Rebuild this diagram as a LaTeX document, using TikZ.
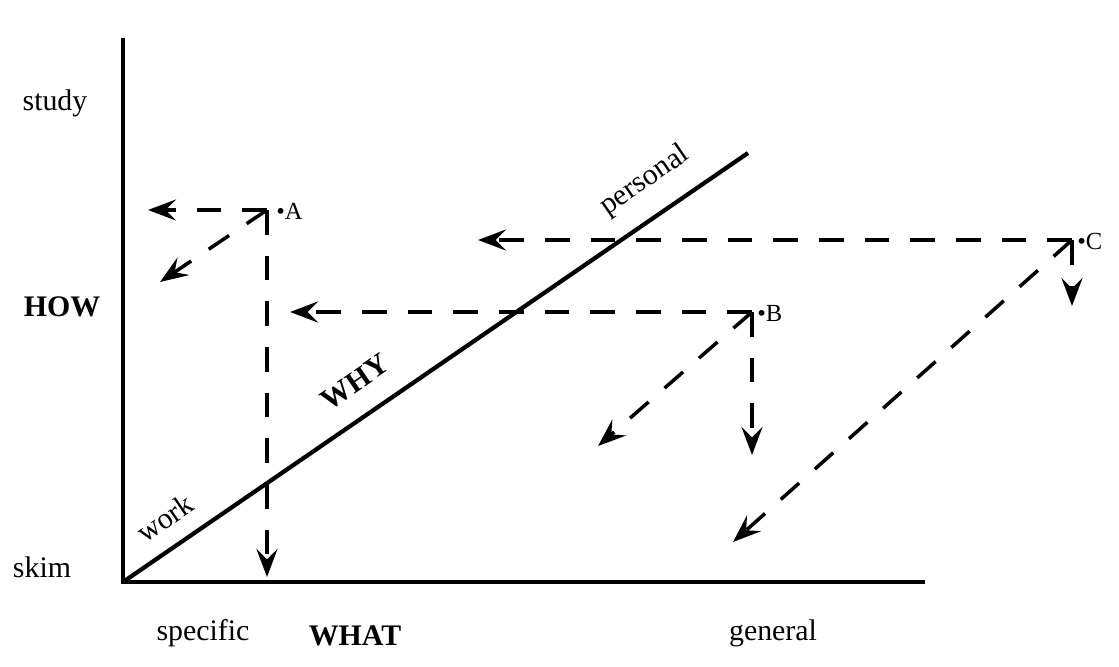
\documentclass[tikz,border=0pt]{standalone}
\usepackage{fontspec}
\setmainfont{Liberation Serif}
\usetikzlibrary{arrows.meta}

\begin{document}
\begin{tikzpicture}[x=0.02cm,y=-0.02cm,
    font=\fontsize{17}{20}\selectfont,
    axis/.style={line width=2.4pt},
    dasharrow/.style={line width=2pt, dash pattern=on 14pt off 12pt,
        -{Stealth[length=16pt,width=12pt,inset=6pt]}},
    ptlabel/.style={anchor=west, inner sep=0pt, font=\fontsize{14}{16}\selectfont}]
    \useasboundingbox (0,0) rectangle (1119,666);

    \coordinate (O) at (123,582);
    \coordinate (Y) at (123,38);
    \coordinate (X) at (925,582);
    \coordinate (P) at (748,153);

    \coordinate (A) at (267,210);
    \coordinate (B) at (752,312);
    \coordinate (C) at (1072,240);

    \coordinate (A1) at (148,210);
    \coordinate (A2) at (160,282);
    \coordinate (A3) at (267,577);
    \coordinate (B1) at (290,312);
    \coordinate (B2) at (598,446);
    \coordinate (B3) at (752,455);
    \coordinate (C1) at (478,240);
    \coordinate (C2) at (733,542);
    \coordinate (C3) at (1072,306);

    \draw[axis] (Y)--(O)--(X);
    \draw[axis] (O)--(P);

    \draw[dasharrow] (A)--(A1);
    \draw[dasharrow] (A)--(A2);
    \draw[dasharrow] (A)--(A3);
    \draw[dasharrow] (B)--(B1);
    \draw[dasharrow] (B)--(B2);
    \draw[dasharrow] (B)--(B3);
    \draw[dasharrow] (C)--(C1);
    \draw[dasharrow] (C)--(C2);
    \draw[dasharrow] (C)--(C3);

    \node[ptlabel] (lA) at (276,211) {•A};
    \node[ptlabel] (lB) at (757,313) {•B};
    \node[ptlabel] (lC) at (1077,241) {•C};

    \node (study) at (55,103) {study};
    \node[font=\fontsize{17}{20}\selectfont\bfseries] (how) at (62,307) {HOW};
    \node (skim) at (42,567) {skim};
    \node (specific) at (203,633) {specific};
    \node[font=\fontsize{17}{20}\selectfont\bfseries] (what) at (355,636) {WHAT};
    \node (general) at (773,633) {general};

    \node[rotate=34.5, inner sep=1pt] (work) at (165,518) {work};
    \node[rotate=34.5, inner sep=1pt, font=\fontsize{17}{20}\selectfont\bfseries] (why) at (355,382) {WHY};
    \node[rotate=34.5, inner sep=1pt] (personal) at (645,181) {personal};
\end{tikzpicture}
\end{document}
